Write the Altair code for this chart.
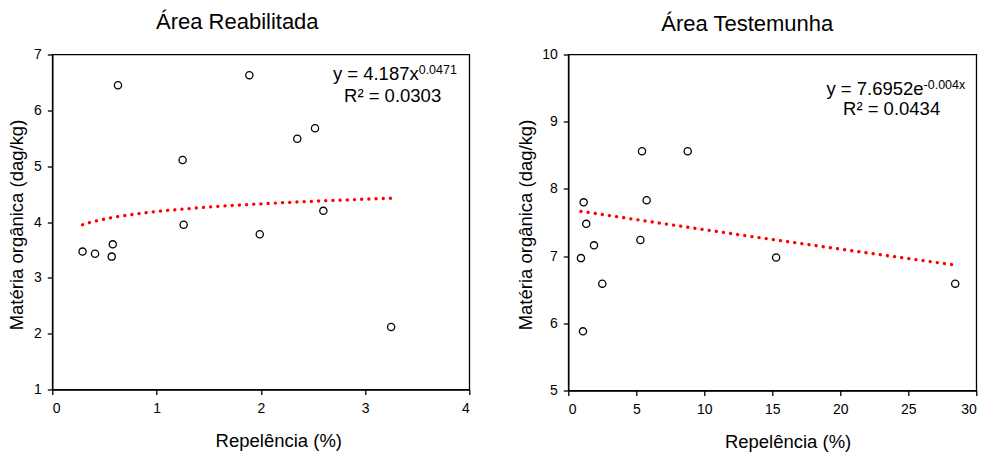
import altair as alt
import numpy as np
import pandas as pd

FONT = "Liberation Sans"

# Área Reabilitada: repelência (%) vs matéria orgânica (dag/kg)
reab_repelencia = [0.29, 0.41, 0.57, 0.58, 0.63, 1.25, 1.26, 1.89, 1.99, 2.35, 2.52, 2.60, 3.25]
reab_materia = [3.47, 3.43, 3.38, 3.60, 6.45, 5.11, 3.95, 6.63, 3.78, 5.49, 5.68, 4.20, 2.12]

# Área Testemunha
test_repelencia = [0.93, 1.08, 1.13, 1.32, 1.89, 2.50, 5.30, 5.42, 5.76, 8.78, 15.28, 28.45]
test_materia = [6.97, 5.88, 7.80, 7.48, 7.16, 6.59, 7.24, 8.56, 7.83, 8.56, 6.98, 6.59]

# Fitted trend lines as reported on the charts
reab_fit = {"a": 4.187, "b": 0.0471}      # y = a * x^b
test_fit = {"a": 7.6952, "b": -0.004}     # y = a * e^(b x)

reab_eq = {"main": "y = 4.187x", "sup": "0.0471", "r2": "R² = 0.0303"}
test_eq = {"main": "y = 7.6952e", "sup": "-0.004x", "r2": "R² = 0.0434"}

x_title = "Repelência (%)"
y_title = "Matéria orgânica (dag/kg)"


def trend(xs, fit, kind, n=80):
    grid = np.linspace(min(xs), max(xs), n)
    if kind == "power":
        ys = fit["a"] * grid ** fit["b"]
    else:
        ys = fit["a"] * np.exp(fit["b"] * grid)
    return pd.DataFrame({"x": grid, "y": ys})


def panel(xs, ys, fit, kind, eq, title, xdom, xticks, ydom, yticks,
          width, height, title_offset, title_dx, eq_x, eq_y, r2_x, r2_y,
          xt_x, xt_y, yt_x, yt_y):
    pts = pd.DataFrame({"x": xs, "y": ys})
    xsc = alt.Scale(domain=xdom, nice=False, zero=False)
    ysc = alt.Scale(domain=ydom, nice=False, zero=False)
    xax = alt.Axis(values=xticks, format="d", title=x_title, titleX=xt_x, titleY=xt_y,
                   titleAlign="center", titleBaseline="alphabetic", labelPadding=7)
    yax = alt.Axis(values=yticks, format="d", title=y_title, titleX=yt_x, titleY=yt_y,
                   titleAlign="center", titleBaseline="alphabetic", titleAngle=270,
                   labelPadding=6)

    points = alt.Chart(pts).mark_point(
        shape="circle", filled=False, size=52, strokeWidth=1.3,
        color="black", opacity=1
    ).encode(
        x=alt.X("x:Q", scale=xsc, axis=xax),
        y=alt.Y("y:Q", scale=ysc, axis=yax),
    )

    line = alt.Chart(trend(xs, fit, kind)).mark_line(
        color="#ff0000", strokeWidth=3.3, strokeDash=[0.1, 7.1], strokeCap="round"
    ).encode(x="x:Q", y="y:Q")

    eq_df = pd.DataFrame([eq])
    main = alt.Chart(eq_df).mark_text(
        align="right", baseline="alphabetic", font=FONT, fontSize=18.5, color="black"
    ).encode(text="main:N", x=alt.value(eq_x), y=alt.value(eq_y))
    sup = alt.Chart(eq_df).mark_text(
        align="left", baseline="alphabetic", font=FONT, fontSize=12.5, color="black"
    ).encode(text="sup:N", x=alt.value(eq_x), y=alt.value(eq_y - 6.5))
    r2 = alt.Chart(eq_df).mark_text(
        align="center", baseline="alphabetic", font=FONT, fontSize=18.5, color="black"
    ).encode(text="r2:N", x=alt.value(r2_x), y=alt.value(r2_y))

    return alt.layer(line, points, main, sup, r2).properties(
        width=width, height=height,
        title=alt.TitleParams(title, font=FONT, fontSize=22, fontWeight="normal",
                              color="black", offset=title_offset, dx=title_dx,
                              anchor="middle"),
    )


left = panel(reab_repelencia, reab_materia, reab_fit, "power", reab_eq,
             "Área Reabilitada", [0, 4], [0, 1, 2, 3, 4], [1, 7], [1, 2, 3, 4, 5, 6, 7],
             417, 335, 14, -23.5, 366.4, 25.5, 340.3, 47.2,
             226, 56.7, -29.3, 170)

right = panel(test_repelencia, test_materia, test_fit, "exp", test_eq,
              "Área Testemunha", [0, 30], [0, 5, 10, 15, 20, 25, 30], [5, 10], [5, 6, 7, 8, 9, 10],
              408, 336, 12, -25, 355.3, 40.5, 323.3, 60.5,
              219.3, 57.4, -36.4, 170)

chart = alt.hconcat(left, right, spacing=44).properties(
    padding={"left": 7.3, "top": 9.5, "right": 5, "bottom": 5},
    background="white",
).configure_view(
    stroke="black", strokeWidth=1.3
).configure_axis(
    domainColor="black", domainWidth=1.3, tickColor="black", tickWidth=1.3,
    tickSize=5, labelFont=FONT, labelFontSize=14, labelColor="black",
    titleFont=FONT, titleFontSize=18.5, titleFontWeight="normal",
    titleColor="black", grid=False
)

chart.save("out.html", embed_options={"renderer": "svg", "actions": False})
